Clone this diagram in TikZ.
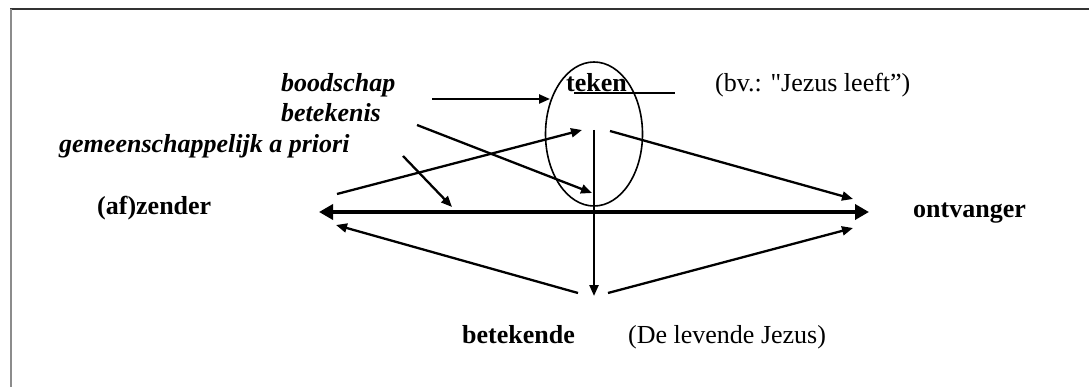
\documentclass[tikz,border=0pt]{standalone}
\usepackage{fontspec}
\setmainfont{Liberation Serif}
\usetikzlibrary{arrows.meta,shapes.geometric}
\begin{document}
\begin{tikzpicture}[x=1pt,y=-1pt,
  lbl/.style={inner sep=0pt, anchor=base west, font=\fontsize{26}{30}\selectfont},
  bl/.style={lbl, font=\fontsize{26}{30}\selectfont\bfseries},
  bi/.style={lbl, font=\fontsize{26}{30}\selectfont\bfseries\itshape},
  conn/.style={line width=2.3pt, -{Triangle[length=11pt,width=9pt]}},
  mainarrow/.style={line width=4.5pt, {Triangle[length=14pt,width=15pt]}-{Triangle[length=14pt,width=15pt]}},
  ring/.style={draw, ellipse, line width=1.6pt, minimum width=97pt, minimum height=144pt, inner sep=0pt}
]
\useasboundingbox[fill=white] (0,0) rectangle (1089,387);
% frame
\draw[line width=2pt, black!80] (10,9) -- (1089,9);
\draw[line width=2.5pt, black!45] (11,9) -- (11,387);

% ellipse
\node[ring] (E) at (594,134) {};

% labels
\node[bl] (teken) at (566,92) {teken};
\node[lbl] (bv) at (715,92) {(bv.: \textquotedbl Jezus leeft”)};
\node[bi] (boodschap) at (281,92) {boodschap};
\node[bi] (betekenis) at (281,122) {betekenis};
\node[bi] (gemeen) at (59,153) {gemeenschappelijk a priori};
\node[bl] (zender) at (97,215) {(af)zender};
\node[bl] (ontvanger) at (913,218) {ontvanger};
\node[bl] (betekende) at (462,343) {betekende};
\node[lbl] (levende) at (628,343) {(De levende Jezus)};

% connector end points
\coordinate (ul1) at (574,93);
\coordinate (ul2) at (675,93);
\coordinate (a1s) at (432,99);
\coordinate (a1e) at (550,99);
\coordinate (a2s) at (417,125);
\coordinate (a2e) at (592,193);
\coordinate (a3s) at (403,156);
\coordinate (a3e) at (452,207);
\coordinate (a4s) at (337,194);
\coordinate (a4e) at (582,130);
\coordinate (a5s) at (610,131);
\coordinate (a5e) at (853,199);
\coordinate (ml) at (319,212);
\coordinate (mr) at (869,212);
\coordinate (vt) at (594,130);
\coordinate (vb) at (594,296);
\coordinate (b1s) at (578,293);
\coordinate (b1e) at (336,225);
\coordinate (b2s) at (608,293);
\coordinate (b2e) at (853,228);

% connectors
\draw[line width=2pt] (ul1) -- (ul2);
\draw[conn] (a1s) -- (a1e);
\draw[conn] (a2s) -- (a2e);
\draw[conn] (a3s) -- (a3e);
\draw[conn] (a4s) -- (a4e);
\draw[conn] (a5s) -- (a5e);
\draw[mainarrow] (ml) -- (mr);
\draw[conn] (vt) -- (vb);
\draw[conn] (b1s) -- (b1e);
\draw[conn] (b2s) -- (b2e);
\end{tikzpicture}
\end{document}
